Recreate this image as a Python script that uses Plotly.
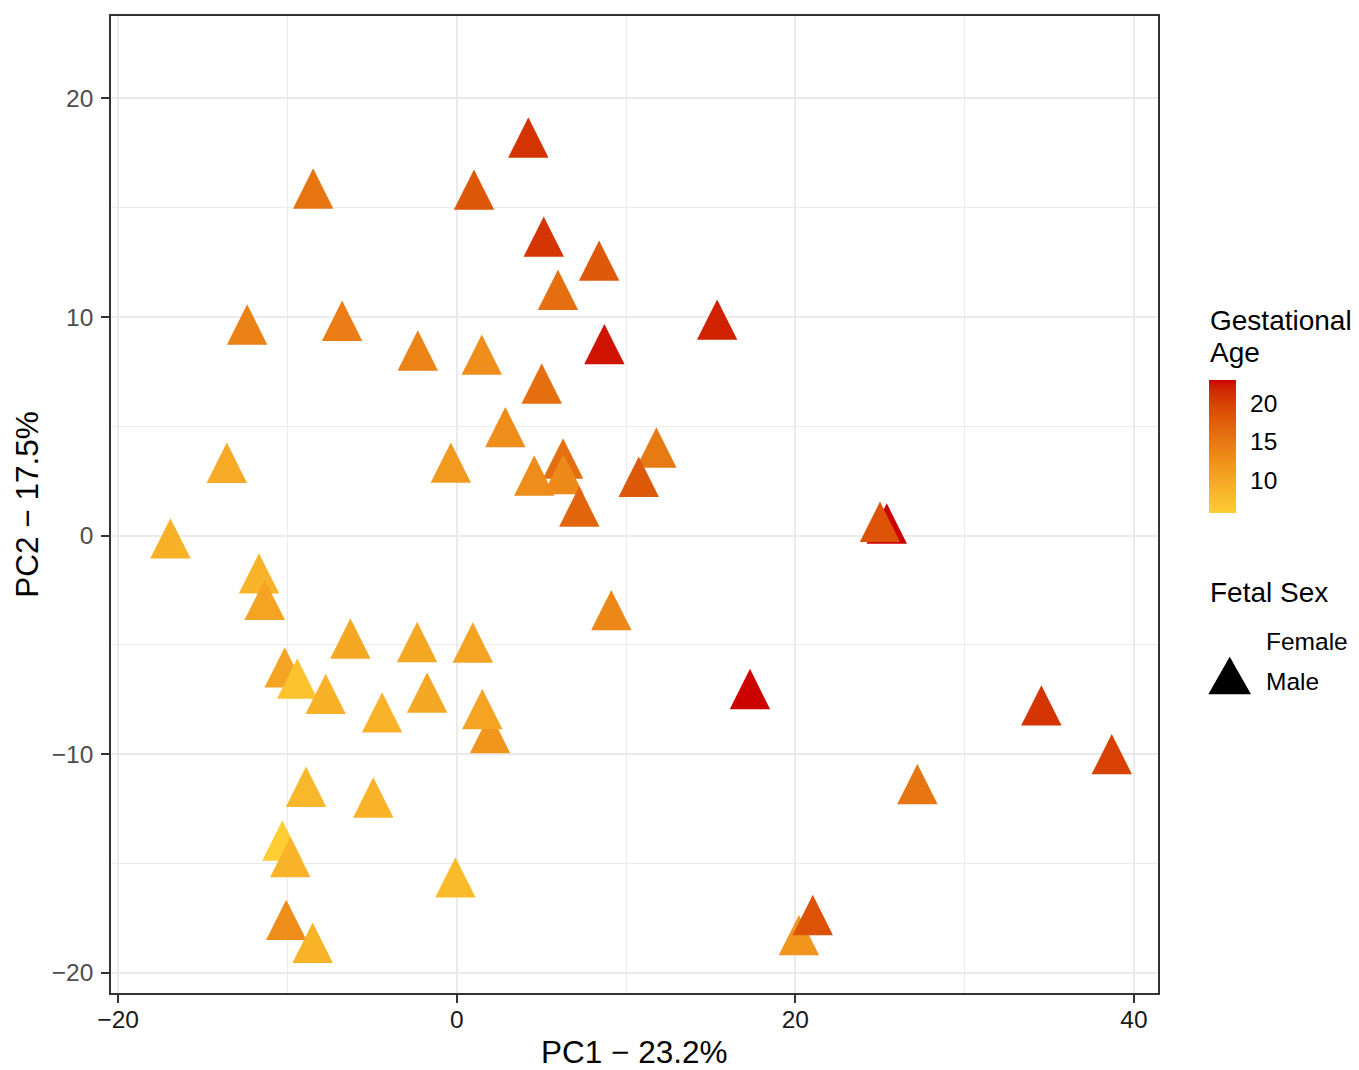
import plotly.graph_objects as go

# ---------------- data ----------------
pc1 = [4.23, 1.02, 5.14, 8.41, 5.98, 15.38, -2.30, 1.48, 8.72, 5.02,
       2.87, -0.35, 11.79, 6.28, 4.58, 6.30, 10.75, 7.24, -8.48, -12.38,
       -6.77, -13.58, -16.91, -11.68, -11.34, -6.28, -2.34, 0.95, -10.16, -9.42,
       -7.74, -4.41, -1.75, 1.97, 1.51, -8.90, -4.93, -10.30, -9.83, -0.08,
       -10.07, -8.51, 25.40, 25.00, 9.13, 17.32, 27.21, 20.21, 21.03, 34.53,
       38.69]
pc2 = [17.90, 15.52, 13.37, 12.27, 10.93, 9.57, 8.16, 7.97, 8.45, 6.65,
       4.65, 3.03, 3.72, 3.22, 2.44, 2.50, 2.38, 1.02, 15.57, 9.35,
       9.52, 3.02, -0.44, -2.04, -3.25, -5.02, -5.18, -5.20, -6.34, -6.85,
       -7.55, -8.40, -7.49, -9.35, -8.25, -11.80, -12.29, -14.26, -15.02, -15.95,
       -17.89, -18.94, 0.24, 0.32, -3.72, -7.33, -11.68, -18.59, -17.67, -8.08,
       -10.31]
gest_age = [21.0, 18.2, 21.0, 18.0, 16.0, 22.0, 13.9, 12.7, 22.5, 16.0,
            12.8, 11.4, 14.8, 16.0, 12.8, 13.2, 18.0, 17.0, 15.3, 14.0,
            14.5, 9.7, 8.8, 8.7, 10.5, 10.0, 10.0, 10.5, 10.5, 6.9,
            8.8, 8.7, 10.0, 12.0, 10.5, 8.3, 8.7, 5.74, 8.7, 7.8,
            12.8, 8.7, 23.04, 18.6, 13.5, 23.0, 15.3, 12.0, 18.6, 21.0,
            20.0]

x_ticks = [-20, 0, 20, 40]
x_minor = [-10, 10, 30]
y_ticks = [-20, -10, 0, 10, 20]
y_minor = [-15, -5, 5, 15]
cbar_ticks = [10, 15, 20]
age_min, age_max = 5.74, 23.04

x_title = "PC1 \u2212 23.2%"
y_title = "PC2 \u2212 17.5%"
color_title = ["Gestational", "Age"]
shape_title = "Fetal Sex"
shape_labels = ["Female", "Male"]

# ---------------- styling helpers ----------------
W, H = 1359, 1070
PL, PR, PT, PB = 111, 1158, 16, 993
FONT = "Liberation Sans, Arial, Helvetica, sans-serif"


def fx(x):
    return (x - PL) / (PR - PL)


def fy(y):
    return (PB - y) / (PB - PT)


def _lin(c):
    c = c / 255.0
    return c / 12.92 if c <= 0.04045 else ((c + 0.055) / 1.055) ** 2.4


def _srgb(c):
    c = max(0.0, min(1.0, c))
    v = 12.92 * c if c <= 0.0031308 else 1.055 * c ** (1 / 2.4) - 0.055
    return int(round(v * 255))


def hex_to_lab(h):
    r, g, b = [_lin(int(h[i:i + 2], 16)) for i in (1, 3, 5)]
    X = 0.4124 * r + 0.3576 * g + 0.1805 * b
    Y = 0.2126 * r + 0.7152 * g + 0.0722 * b
    Z = 0.0193 * r + 0.1192 * g + 0.9505 * b
    f = lambda t: t ** (1 / 3) if t > 0.008856 else 7.787 * t + 16 / 116
    fxx, fyy, fzz = f(X / 0.95047), f(Y), f(Z / 1.08883)
    return 116 * fyy - 16, 500 * (fxx - fyy), 200 * (fyy - fzz)


def lab_to_hex(L, a, b):
    fyy = (L + 16) / 116
    fxx = fyy + a / 500
    fzz = fyy - b / 200
    inv = lambda t: t ** 3 if t ** 3 > 0.008856 else (t - 16 / 116) / 7.787
    X, Y, Z = 0.95047 * inv(fxx), inv(fyy), 1.08883 * inv(fzz)
    r = 3.2406 * X - 1.5372 * Y - 0.4986 * Z
    g = -0.9689 * X + 1.8758 * Y + 0.0415 * Z
    bb = 0.0557 * X - 0.2040 * Y + 1.0570 * Z
    return "#%02x%02x%02x" % (_srgb(r), _srgb(g), _srgb(bb))


LOW, HIGH = "#FFCE33", "#CC0000"
l0, l1 = hex_to_lab(LOW), hex_to_lab(HIGH)
N = 24
colorscale = []
for i in range(N + 1):
    t = i / N
    colorscale.append([t, lab_to_hex(*[a + (b - a) * t for a, b in zip(l0, l1)])])

# ---------------- figure ----------------
r_marker = 20.2
fig = go.Figure()
fig.add_trace(go.Scatter(
    x=pc1, y=pc2, mode="markers",
    marker=dict(
        symbol="arrow-down", angle=180, standoff=4 * r_marker / 3,
        size=2 * r_marker, color=gest_age, coloraxis="coloraxis",
        line=dict(width=0), opacity=1,
    ),
    showlegend=False, hoverinfo="x+y",
))

# colorbar geometry (pixels)
CB_X0, CB_X1, CB_TOP, CB_BOT = 1209, 1236, 380, 512.7
cb_len = CB_BOT - CB_TOP

fig.update_layout(
    width=W, height=H,
    margin=dict(l=PL, r=W - PR, t=PT, b=H - PB, autoexpand=False),
    paper_bgcolor="white", plot_bgcolor="white",
    font=dict(family=FONT, color="black"),
    coloraxis=dict(
        colorscale=colorscale, cmin=age_min, cmax=age_max,
        colorbar=dict(
            x=fx(CB_X0), xanchor="left", xpad=0,
            y=fy((CB_TOP + CB_BOT) / 2), yanchor="middle", ypad=0,
            thicknessmode="pixels", thickness=CB_X1 - CB_X0,
            lenmode="pixels", len=cb_len,
            outlinewidth=0, ticks="", showticklabels=False,
            title=dict(text=""),
        ),
    ),
    xaxis=dict(
        range=[-20.42, 41.42], tickmode="array", tickvals=x_ticks,
        ticks="outside", ticklen=8, tickwidth=1.5, tickcolor="#333333",
        showline=True, mirror=True, linecolor="#333333", linewidth=1.6,
        showgrid=True, gridcolor="#EBEBEB", gridwidth=2.2, zeroline=False,
        minor=dict(tickmode="array", tickvals=x_minor, showgrid=True,
                   gridcolor="#EBEBEB", gridwidth=1.1, ticks=""),
        tickfont=dict(family=FONT, size=24.5, color="#1A1A1A"),
        ticklabelstandoff=-4,
    ),
    yaxis=dict(
        range=[-20.93, 23.77], tickmode="array", tickvals=y_ticks,
        ticks="outside", ticklen=8, tickwidth=1.5, tickcolor="#333333",
        showline=True, mirror=True, linecolor="#333333", linewidth=1.6,
        showgrid=True, gridcolor="#EBEBEB", gridwidth=2.2, zeroline=False,
        minor=dict(tickmode="array", tickvals=y_minor, showgrid=True,
                   gridcolor="#EBEBEB", gridwidth=1.1, ticks=""),
        tickfont=dict(family=FONT, size=24.5, color="#4D4D4D"),
        ticklabelstandoff=3,
    ),
)

ann = []
# axis titles
ann.append(dict(text=x_title, x=0.5, y=fy(1051.5), xref="paper", yref="paper",
                xanchor="center", yanchor="middle", showarrow=False, borderpad=0,
                font=dict(family=FONT, size=31.5, color="black")))
ann.append(dict(text=y_title, x=fx(26.3), y=fy((PT + PB) / 2), xref="paper", yref="paper",
                xanchor="center", yanchor="middle", showarrow=False, textangle=-90,
                borderpad=0, font=dict(family=FONT, size=31.5, color="black")))
# colour legend title
for txt, yc in zip(color_title, [320.7, 352.7]):
    ann.append(dict(text=txt, x=fx(1209), y=fy(yc), xref="paper", yref="paper",
                    xanchor="left", yanchor="middle", showarrow=False, borderpad=0,
                    font=dict(family=FONT, size=28, color="black")))
# colorbar tick labels and white tick marks
shapes = []
for v in cbar_ticks:
    yv = CB_BOT - (v - age_min) / (age_max - age_min) * cb_len
    ann.append(dict(text=str(v), x=fx(1249), y=fy(yv), xref="paper", yref="paper",
                    xanchor="left", yanchor="middle", showarrow=False, borderpad=0,
                    font=dict(family=FONT, size=24.5, color="black")))
    for a, b in [(CB_X0, CB_X0 + 5.3), (CB_X1 - 5.3, CB_X1)]:
        shapes.append(dict(type="line", xref="paper", yref="paper",
                           x0=fx(a), x1=fx(b), y0=fy(yv), y1=fy(yv),
                           line=dict(color="white", width=1.5)))
# shape legend
ann.append(dict(text=shape_title, x=fx(1209), y=fy(592.2), xref="paper", yref="paper",
                xanchor="left", yanchor="middle", showarrow=False, borderpad=0,
                font=dict(family=FONT, size=28, color="black")))
for txt, yc in zip(shape_labels, [641.7, 681.7]):
    ann.append(dict(text=txt, x=fx(1265), y=fy(yc), xref="paper", yref="paper",
                    xanchor="left", yanchor="middle", showarrow=False, borderpad=0,
                    font=dict(family=FONT, size=24.5, color="black")))
tri = [(1208.3, 694.3), (1251.0, 694.3), (1229.7, 656.7)]
path = "M {} {} L {} {} L {} {} Z".format(*[c for p in tri for c in (fx(p[0]), fy(p[1]))])
shapes.append(dict(type="path", xref="paper", yref="paper", path=path,
                   fillcolor="black", line=dict(width=0)))

fig.update_layout(annotations=ann, shapes=shapes)
fig.write_html(
    "out.html",
    config={"displayModeBar": False},
    post_script="document.body.style.margin='0';document.body.style.padding='0';"
                "document.body.style.overflow='hidden';",
)
